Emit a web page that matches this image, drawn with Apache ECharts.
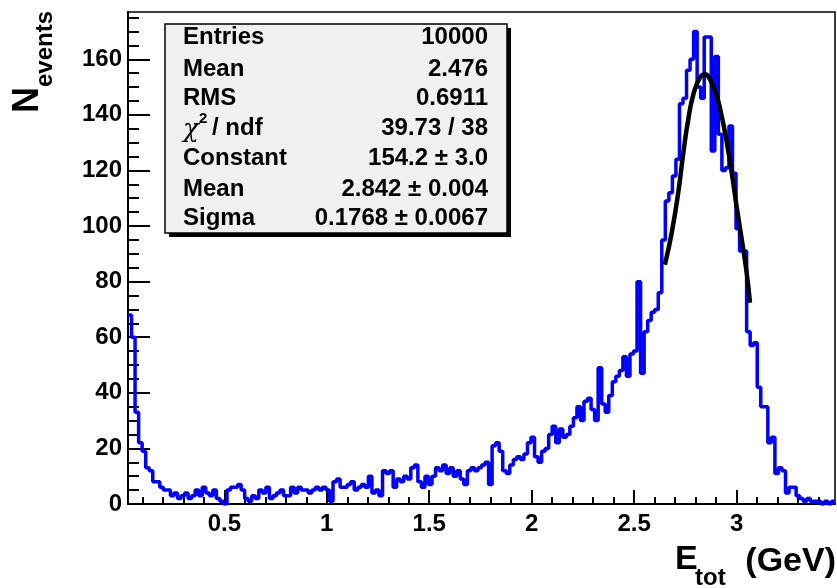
<!DOCTYPE html>
<html>
<head>
<meta charset="utf-8">
<script src="https://cdn.jsdelivr.net/npm/echarts@6/dist/echarts.min.js"></script>
<style>
html, body { margin: 0; padding: 0; background: #fff; }
#etotHist { width: 837px; height: 588px; }
</style>
</head>
<body>
<div id="etotHist"></div>
<script>
// histogram binning (200 bins)
var binLow = 0.03;
var binWidth = 0.01725;
var counts = [
  68, 60, 33, 22, 19, 13, 12, 8, 8, 6,
  5, 5, 3, 4, 2, 3, 4, 2, 3, 5,
  3, 6, 4, 3, 5, 2, 1, 0, 5, 6,
  6, 7, 5, 2, 1, 3, 2, 5, 4, 6,
  2, 3, 4, 5, 3, 3, 6, 4, 6, 5,
  5, 4, 5, 6, 5, 6, 5, 1, 8, 9,
  6, 6, 7, 8, 5, 6, 7, 6, 10, 4,
  5, 3, 12, 11, 12, 6, 9, 8, 10, 9,
  13, 14, 8, 6, 10, 7, 10, 13, 12, 14,
  11, 13, 10, 12, 9, 7, 12, 13, 12, 13,
  14, 15, 7, 21, 22, 19, 12, 11, 14, 16,
  17, 16, 18, 22, 24, 17, 15, 19, 20, 25,
  28, 22, 27, 24, 25, 28, 31, 35, 30, 37,
  38, 34, 30, 49, 36, 33, 39, 44, 46, 48,
  53, 46, 54, 55, 80, 47, 62, 66, 69, 70,
  76, 95, 109, 112, 118, 124, 144, 146, 156, 160,
  170, 150, 146, 168, 168, 127, 161, 133, 120, 121,
  136, 119, 99, 91, 91, 62, 57, 58, 42, 35,
  35, 22, 24, 11, 13, 12, 4, 6, 6, 3,
  2, 1, 2, 1, 1, 1, 0, 1, 0, 1
];

// gaussian fit curve
var fitX = [2.650, 2.683, 2.715, 2.740, 2.764, 2.789, 2.821, 2.846, 2.870, 2.903, 2.927, 2.952, 2.976, 3.000, 3.025, 3.049, 3.065];
var fitY = [86.1, 97.5, 112, 126.4, 138.4, 147.4, 153.4, 154.6, 152.8, 146.8, 139.6, 130, 119.2, 107, 95.1, 83.2, 72.4];

var xMajorTicks = [0.5, 1, 1.5, 2, 2.5, 3];
var xMinorTicks = [0.1, 0.2, 0.3, 0.4, 0.6, 0.7, 0.8, 0.9, 1.1, 1.2, 1.3, 1.4, 1.6, 1.7, 1.8, 1.9,
  2.1, 2.2, 2.3, 2.4, 2.6, 2.7, 2.8, 2.9, 3.1, 3.2, 3.3, 3.4];
var yMajorTicks = [0, 20, 40, 60, 80, 100, 120, 140, 160];
var yMinorTicks = [5, 10, 15, 25, 30, 35, 45, 50, 55, 65, 70, 75, 85, 90, 95, 105, 110, 115,
  125, 130, 135, 145, 150, 155, 165, 170, 175];

var statNames = ['Entries', 'Mean', 'RMS', '', 'Constant', 'Mean', 'Sigma'];
var statValues = ['10000', '2.476', '0.6911', '39.73 / 38', '154.2 \u00b1 3.0', '2.842 \u00b1 0.004', '0.1768 \u00b1 0.0067'];

var histData = [];
for (var i = 0; i < counts.length; i++) {
  histData.push([binLow + i * binWidth, counts[i]]);
}
histData.push([binLow + counts.length * binWidth, counts[counts.length - 1]]);

var fitData = fitX.map(function (x, k) { return [x, fitY[k]]; });

var labelFont = 'Liberation Sans';
var rowY = [37, 69, 98, 128, 158, 189, 218];

var graphics = [
  { type: 'rect', shape: { x: 169, y: 28, width: 342, height: 209 }, style: { fill: '#000' }, z: 10 },
  { type: 'rect', shape: { x: 165, y: 24, width: 342, height: 209 }, style: { fill: '#f0f0f0', stroke: '#000', lineWidth: 1.5 }, z: 11 },
  // y title: N_events
  { type: 'text', x: 28, y: 113, rotation: Math.PI / 2, z: 12,
    style: { text: 'N', x: 0, y: 0, font: 'bold 36px "Liberation Sans"', fill: '#000', align: 'left', verticalAlign: 'middle' } },
  { type: 'text', x: 45, y: 87, rotation: Math.PI / 2, z: 12,
    style: { text: 'events', x: 0, y: 0, font: 'bold 24px "Liberation Sans"', fill: '#000', align: 'left', verticalAlign: 'middle' } },
  // x title: E_tot (GeV)
  { type: 'text', z: 12, style: { text: 'E', x: 675, y: 560, font: 'bold 34px "Liberation Sans"', fill: '#000', align: 'left', verticalAlign: 'middle' } },
  { type: 'text', z: 12, style: { text: 'tot', x: 695, y: 578, font: 'bold 24px "Liberation Sans"', fill: '#000', align: 'left', verticalAlign: 'middle' } },
  { type: 'text', z: 12, style: { text: '(GeV)', x: 836, y: 562, font: 'bold 34px "Liberation Sans"', fill: '#000', align: 'right', verticalAlign: 'middle' } },
  // chi2 / ndf label
  { type: 'text', z: 12, style: { text: '\u03c7', x: 183, y: 130, font: 'italic 26px "DejaVu Serif"', fill: '#000', align: 'left', verticalAlign: 'middle' } },
  { type: 'text', z: 12, style: { text: '2', x: 199, y: 119, font: 'bold 15px "Liberation Sans"', fill: '#000', align: 'left', verticalAlign: 'middle' } },
  { type: 'text', z: 12, style: { text: '/ ndf', x: 212, y: rowY[3], font: 'bold 24px "Liberation Sans"', fill: '#000', align: 'left', verticalAlign: 'middle' } }
];
statNames.forEach(function (name, k) {
  if (name) {
    graphics.push({ type: 'text', z: 12, style: { text: name, x: 183, y: rowY[k], font: 'bold 24px "Liberation Sans"', fill: '#000', align: 'left', verticalAlign: 'middle' } });
  }
  graphics.push({ type: 'text', z: 12, style: { text: statValues[k], x: 488, y: rowY[k], font: 'bold 24px "Liberation Sans"', fill: '#000', align: 'right', verticalAlign: 'middle' } });
});

var options = {
  animation: false,
  backgroundColor: '#fff',
  grid: {
    left: 128, right: 2, top: 12, bottom: 84,
    show: true, borderColor: '#000', borderWidth: 1.5
  },
  xAxis: [
    {
      type: 'value', min: 0.03, max: 3.48, position: 'bottom',
      splitLine: { show: false },
      axisLine: { lineStyle: { color: '#000', width: 2 } },
      axisTick: { inside: true, length: 14, customValues: xMajorTicks, lineStyle: { color: '#000', width: 2 } },
      axisLabel: { customValues: xMajorTicks, margin: 8, color: '#000', fontSize: 24, fontWeight: 'bold', fontFamily: labelFont }
    },
    {
      type: 'value', min: 0.03, max: 3.48, position: 'bottom',
      splitLine: { show: false },
      axisLine: { show: false },
      axisTick: { inside: true, length: 7, customValues: xMinorTicks, lineStyle: { color: '#000', width: 2 } },
      axisLabel: { show: false }
    }
  ],
  yAxis: [
    {
      type: 'value', min: 0, max: 177, position: 'left',
      splitLine: { show: false },
      axisLine: { show: true, lineStyle: { color: '#000', width: 2 } },
      axisTick: { inside: true, length: 22, customValues: yMajorTicks, lineStyle: { color: '#000', width: 2 } },
      axisLabel: { customValues: yMajorTicks, margin: 6, color: '#000', fontSize: 24, fontWeight: 'bold', fontFamily: labelFont }
    },
    {
      type: 'value', min: 0, max: 177, position: 'left',
      splitLine: { show: false },
      axisLine: { show: false },
      axisTick: { inside: true, length: 11, customValues: yMinorTicks, lineStyle: { color: '#000', width: 2 } },
      axisLabel: { show: false }
    }
  ],
  series: [
    {
      type: 'line', name: 'hist', xAxisIndex: 0, yAxisIndex: 0,
      step: 'end', symbol: 'none', data: histData,
      lineStyle: { color: '#0000ff', width: 3.5 }
    },
    {
      type: 'line', name: 'fit', xAxisIndex: 0, yAxisIndex: 0,
      smooth: true, symbol: 'none', data: fitData,
      lineStyle: { color: '#000', width: 4.5 }, z: 5
    }
  ],
  graphic: graphics
};

var chart = echarts.init(document.getElementById('etotHist'));
chart.setOption(options);
</script>
</body>
</html>
